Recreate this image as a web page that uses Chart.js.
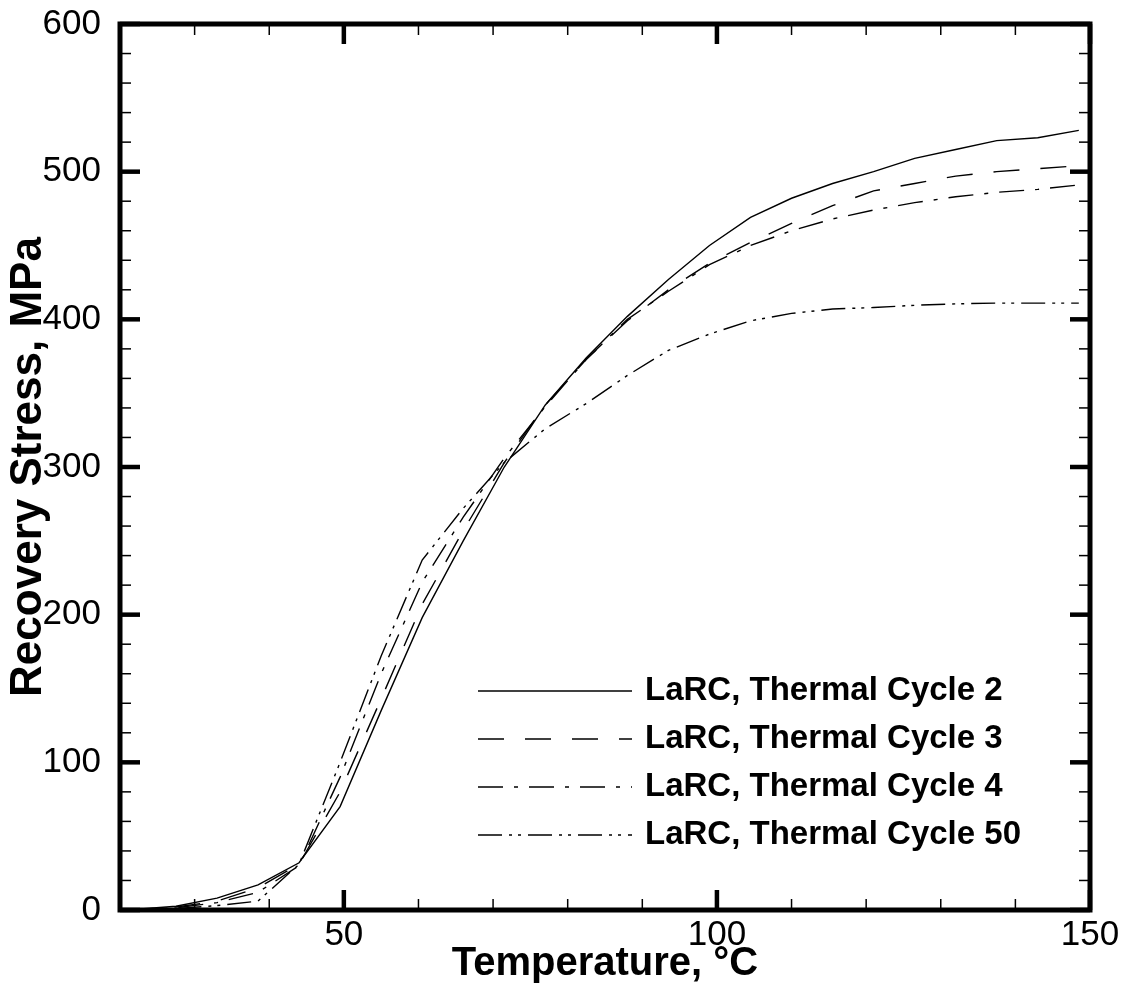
<!DOCTYPE html>
<html><head><meta charset="utf-8">
<script src="https://cdn.jsdelivr.net/npm/chart.js@4.4.0/dist/chart.umd.min.js"></script>
<style>html,body{margin:0;padding:0;background:#fff;overflow:hidden}#wrap{width:1123px;height:994px}</style>
</head><body><div id="wrap"><canvas id="c" width="1123" height="994"></canvas></div>
<script>
const temperature = [21, 27.5, 33, 38.5, 44, 49.5, 55, 60.5, 66, 71.5, 77, 82.5, 88, 93.5, 99, 104.5, 110, 115.5, 121, 126.5, 132, 137.5, 143, 148.5];
const cycle2  = [0, 2.5, 8, 17, 32, 70, 135, 198, 250, 300, 342, 374, 402, 427, 450, 469, 482, 492, 500, 509, 515, 521, 523, 528];
const cycle3  = [0, 2, 6, 15, 31, 80, 143, 207, 257, 303, 342, 373, 399, 420, 438, 452, 465, 477, 487, 492, 497, 500, 502, 504];
const cycle4  = [0, 1.5, 5, 12, 30, 90, 160, 222, 266, 306, 341, 373, 400, 419, 437, 450, 460, 468, 474, 479, 483, 486, 488, 491];
const cycle50 = [0, 1, 3, 6, 31, 100, 172, 237, 272, 303, 326, 343, 362, 379, 390, 399, 404, 407, 408, 409.5, 410.5, 411, 411, 411];
const seriesLabels = ['LaRC, Thermal Cycle 2', 'LaRC, Thermal Cycle 3', 'LaRC, Thermal Cycle 4', 'LaRC, Thermal Cycle 50'];
const xTickValues = [50, 100, 150];
const yTickValues = [0, 100, 200, 300, 400, 500, 600];
const xRange = [20, 150];
const yRange = [0, 600];
const xMinorStep = 10;
const yMinorStep = 20;

const dashes = [[], [26, 21], [25, 11, 4, 11], [24, 7, 3, 6, 3, 7]];
const seriesValues = [cycle2, cycle3, cycle4, cycle50];
const FONT = '"Liberation Sans", Arial, sans-serif';

const datasets = seriesValues.map((vals, i) => ({
  label: seriesLabels[i],
  data: vals.map((v, k) => ({x: temperature[k], y: v})),
  borderColor: '#000',
  borderWidth: 1.4,
  borderDash: dashes[i],
  pointRadius: 0,
  tension: 0,
  fill: false
}));

const frameTicks = {
  id: 'frameTicks',
  afterDraw(chart) {
    const {ctx, chartArea: a, scales: {x, y}} = chart;
    ctx.save();
    ctx.strokeStyle = '#000';
    ctx.lineCap = 'butt';
    ctx.setLineDash([]);
    const line = (x1, y1, x2, y2, w) => { ctx.lineWidth = w; ctx.beginPath(); ctx.moveTo(x1, y1); ctx.lineTo(x2, y2); ctx.stroke(); };
    for (let v = xRange[0]; v <= xRange[1] + 1e-9; v += xMinorStep) {
      const p = x.getPixelForValue(v);
      const major = Math.abs(v % 50) < 1e-9;
      const len = major ? 20 : 11, w = major ? 4.5 : 1.5;
      line(p, a.bottom, p, a.bottom - len, w);
      line(p, a.top, p, a.top + len, w);
    }
    for (let v = yRange[0]; v <= yRange[1] + 1e-9; v += yMinorStep) {
      const p = y.getPixelForValue(v);
      const major = Math.abs(v % 100) < 1e-9;
      const len = major ? 20 : 11, w = major ? 4.5 : 1.5;
      line(a.left, p, a.left + len, p, w);
      line(a.right, p, a.right - len, p, w);
    }
    ctx.lineWidth = 5;
    ctx.strokeRect(a.left, a.top, a.right - a.left, a.bottom - a.top);
    ctx.restore();
  }
};

const insideLegend = {
  id: 'insideLegend',
  afterDraw(chart) {
    const {ctx, chartArea: a} = chart;
    ctx.save();
    const x0 = a.left + 358, x1 = a.left + 512, tx = a.left + 525;
    const top = a.top + 667, step = 48;
    chart.data.datasets.forEach((ds, i) => {
      const yy = top + i * step;
      ctx.strokeStyle = '#000';
      ctx.lineWidth = ds.borderWidth;
      ctx.setLineDash(ds.borderDash || []);
      ctx.beginPath(); ctx.moveTo(x0, yy); ctx.lineTo(x1, yy); ctx.stroke();
      ctx.setLineDash([]);
      ctx.fillStyle = '#000';
      ctx.font = 'bold 33px ' + FONT;
      ctx.textBaseline = 'middle';
      ctx.textAlign = 'left';
      ctx.fillText(ds.label, tx, yy);
    });
    ctx.restore();
  }
};

const zeroPad = s => { s.paddingTop = 0; s.paddingBottom = 0; s.paddingLeft = 0; s.paddingRight = 0; };

new Chart(document.getElementById('c'), {
  type: 'line',
  data: {datasets},
  options: {
    responsive: false,
    devicePixelRatio: 1,
    animation: false,
    layout: {padding: {top: 24, right: 33, bottom: 0, left: 2}},
    plugins: {legend: {display: false}, tooltip: {enabled: false}},
    scales: {
      x: {
        type: 'linear', min: xRange[0], max: xRange[1],
        grid: {display: false, drawTicks: false},
        border: {display: false},
        afterBuildTicks: s => { s.ticks = xTickValues.map(v => ({value: v})); },
        afterFit: s => { s.height = 84; zeroPad(s); },
        ticks: {color: '#000', padding: 4, maxRotation: 0, autoSkip: false, font: {family: FONT, size: 35}},
        title: {display: true, text: 'Temperature, °C', color: '#000', padding: {top: 0, bottom: 6}, font: {family: FONT, size: 40, weight: 'bold'}}
      },
      y: {
        type: 'linear', min: yRange[0], max: yRange[1],
        grid: {display: false, drawTicks: false},
        border: {display: false},
        afterBuildTicks: s => { s.ticks = yTickValues.map(v => ({value: v})); },
        afterFit: s => { s.width = 118; zeroPad(s); },
        ticks: {color: '#000', padding: 19, autoSkip: false, font: {family: FONT, size: 35}},
        title: {display: true, text: 'Recovery Stress, MPa', color: '#000', padding: {top: 0, bottom: 0}, font: {family: FONT, size: 44, weight: 'bold'}}
      }
    }
  },
  plugins: [frameTicks, insideLegend]
});
</script>
</body></html>
